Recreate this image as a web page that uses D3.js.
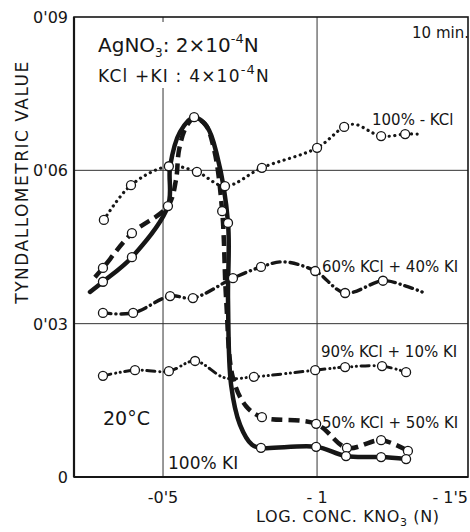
<!DOCTYPE html>
<html>
<head>
<meta charset="utf-8">
<script src="https://cdn.jsdelivr.net/npm/d3@7"></script>
<style>
  html, body { margin: 0; padding: 0; background: #fff; }
  svg { display: block; }
  text { font-family: "DejaVu Sans", "Liberation Sans", sans-serif; fill: #161616; }
</style>
</head>
<body>
<svg id="chart" width="470" height="532"></svg>
<script>
// tyndallometric value vs log conc KNO3 - each point: [logConc, value, hasCircle]

const kcl100 = [
  [-0.308, 0.0503, 1], [-0.396, 0.0571, 1], [-0.519, 0.0608, 1], [-0.610, 0.0597, 1],
  [-0.701, 0.0569, 1], [-0.821, 0.0605, 1], [-1.000, 0.0644, 1], [-1.088, 0.0685, 1],
  [-1.123, 0.0690, 0], [-1.208, 0.0667, 1], [-1.286, 0.0671, 1], [-1.325, 0.0671, 0]
];

const kcl60ki40 = [
  [-0.305, 0.0321, 1], [-0.403, 0.0321, 1], [-0.523, 0.0354, 1], [-0.597, 0.0350, 1],
  [-0.727, 0.0389, 1], [-0.818, 0.0411, 1], [-0.890, 0.0421, 0], [-0.994, 0.0403, 1],
  [-1.091, 0.0360, 1], [-1.214, 0.0384, 1], [-1.286, 0.0374, 0], [-1.341, 0.0362, 0]
];

const kcl90ki10 = [
  [-0.305, 0.0198, 1], [-0.409, 0.0209, 1], [-0.519, 0.0207, 1], [-0.604, 0.0227, 1],
  [-0.701, 0.0194, 0], [-0.795, 0.0196, 1], [-0.994, 0.0209, 1], [-1.091, 0.0215, 1],
  [-1.211, 0.0217, 1], [-1.289, 0.0205, 1]
];

const kcl50ki50 = [
  [-0.279, 0.0391, 0], [-0.305, 0.0409, 1], [-0.399, 0.0477, 1], [-0.516, 0.0530, 0],
  [-0.542, 0.0581, 0], [-0.552, 0.0640, 0], [-0.575, 0.0685, 0], [-0.601, 0.0702, 0],
  [-0.636, 0.0691, 0], [-0.666, 0.0640, 0], [-0.692, 0.0520, 1], [-0.705, 0.0346, 0],
  [-0.727, 0.0194, 0], [-0.769, 0.0139, 0], [-0.821, 0.0117, 1], [-0.997, 0.0104, 1],
  [-1.097, 0.0057, 1], [-1.208, 0.0072, 1], [-1.295, 0.0051, 1]
];

const ki100 = [
  [-0.263, 0.0362, 0], [-0.305, 0.0382, 1], [-0.399, 0.0430, 1], [-0.516, 0.0530, 1],
  [-0.523, 0.0608, 0], [-0.555, 0.0675, 0], [-0.601, 0.0704, 1], [-0.643, 0.0685, 0],
  [-0.675, 0.0630, 0], [-0.711, 0.0497, 1], [-0.711, 0.0346, 0], [-0.721, 0.0180, 0],
  [-0.750, 0.0102, 0], [-0.789, 0.0063, 0], [-0.818, 0.0057, 1], [-0.997, 0.0059, 1],
  [-1.094, 0.0041, 1], [-1.208, 0.0039, 1], [-1.289, 0.0035, 1]
];

const xTicks = [-0.5, -1, -1.5];
const xTickLabels = ["-0'5", "- 1", "- 1'5"];
const yTicks = [0, 0.03, 0.06, 0.09];
const yTickLabels = ["0", "0'03", "0'06", "0'09"];
const xGrid = [-0.5, -1];
const yGrid = [0.03, 0.06];

const ink = "#161616";
const svg = d3.select("#chart");
const m = { left: 74, right: 2, top: 17, bottom: 55 };
const W = 470, H = 532;

const x = d3.scaleLinear().domain([-0.211, -1.49]).range([m.left, W - m.right]);
const y = d3.scaleLinear().domain([0, 0.09]).range([H - m.bottom, m.top]);

// grid
svg.append("g").selectAll("line").data(xGrid).join("line")
  .attr("x1", (d) => x(d)).attr("x2", (d) => x(d))
  .attr("y1", y(0)).attr("y2", y(0.09))
  .attr("stroke", "#333").attr("stroke-width", 1);
svg.append("g").selectAll("line").data(yGrid).join("line")
  .attr("x1", x.range()[0]).attr("x2", x.range()[1])
  .attr("y1", (d) => y(d)).attr("y2", (d) => y(d))
  .attr("stroke", "#333").attr("stroke-width", 1);

// frame
svg.append("rect")
  .attr("x", x.range()[0]).attr("y", y(0.09))
  .attr("width", x.range()[1] - x.range()[0]).attr("height", y(0) - y(0.09))
  .attr("fill", "none").attr("stroke", ink).attr("stroke-width", 1.6);
svg.append("line")
  .attr("x1", x.range()[0]).attr("x2", x.range()[1]).attr("y1", y(0)).attr("y2", y(0))
  .attr("stroke", ink).attr("stroke-width", 2.2);
svg.append("line")
  .attr("x1", x.range()[0]).attr("x2", x.range()[0]).attr("y1", y(0)).attr("y2", y(0.09))
  .attr("stroke", ink).attr("stroke-width", 2.2);

// header text on white so the grid line is hidden behind it
const head = svg.append("g");
head.append("rect").attr("x", 92).attr("y", 22).attr("width", 190).attr("height", 66).attr("fill", "#fff");
const t1 = head.append("text").attr("x", 98).attr("y", 52).attr("font-size", 20);
t1.append("tspan").text("AgNO");
t1.append("tspan").attr("font-size", 12).attr("dy", 5).text("3");
t1.append("tspan").attr("dy", -5).text(":  2×10");
t1.append("tspan").attr("font-size", 13).attr("dy", -9).text("-4");
t1.append("tspan").attr("dy", 9).text("N");
const t2 = head.append("text").attr("x", 98).attr("y", 82).attr("font-size", 17).attr("letter-spacing", 1.2);
t2.append("tspan").text("KCl +KI : 4×10");
t2.append("tspan").attr("font-size", 13).attr("dy", -8).text("-4");
t2.append("tspan").attr("dy", 8).text("N");

svg.append("text").attr("x", 469).attr("y", 38).attr("text-anchor", "end")
  .attr("font-size", 15).text("10 min.");

// series
const line = d3.line()
  .x((d) => x(d[0])).y((d) => y(d[1]))
  .curve(d3.curveCatmullRom.alpha(0.5));

const series = [
  { data: kcl100, width: 3.2, dash: "0.1 5.5", cap: "round" },
  { data: kcl60ki40, width: 3.4, dash: "8 5 0.1 5", cap: "round" },
  { data: kcl90ki10, width: 3, dash: "8 5 0.1 4.5 0.1 4.5", cap: "round" },
  { data: kcl50ki50, width: 4.5, dash: "11 6", cap: "butt" },
  { data: ki100, width: 4.5, dash: null, cap: "round" }
];

svg.append("g").selectAll("path").data(series).join("path")
  .attr("d", (s) => line(s.data))
  .attr("fill", "none").attr("stroke", ink)
  .attr("stroke-width", (s) => s.width)
  .attr("stroke-dasharray", (s) => s.dash)
  .attr("stroke-linecap", (s) => s.cap)
  .attr("stroke-linejoin", "round");

const marked = series.flatMap((s) => s.data.filter((d) => d[2]));
svg.append("g").selectAll("circle").data(marked).join("circle")
  .attr("cx", (d) => x(d[0])).attr("cy", (d) => y(d[1]))
  .attr("r", 4.5).attr("fill", "#fff").attr("stroke", ink).attr("stroke-width", 1.3);

// series labels
const labels = [
  { text: "100% - KCl", x: 372, y: 125, size: 15 },
  { text: "60% KCl + 40% KI", x: 322, y: 272, size: 15 },
  { text: "90% KCl + 10% KI", x: 321, y: 357, size: 15 },
  { text: "50% KCl + 50% KI", x: 322, y: 428, size: 15 },
  { text: "100% KI", x: 168, y: 469, size: 17 },
];
svg.append("g").selectAll("text").data(labels).join("text")
  .attr("x", (d) => d.x).attr("y", (d) => d.y)
  .attr("font-size", (d) => d.size).text((d) => d.text);

svg.append("text").attr("x", 103).attr("y", 425).attr("font-size", 19).text("20°C");

// tick labels
svg.append("g").selectAll("text").data(yTicks).join("text")
  .attr("x", 68).attr("y", (d) => y(d) + 6)
  .attr("text-anchor", "end").attr("font-size", 16)
  .text((d, i) => yTickLabels[i]);
svg.append("g").selectAll("text").data(xTicks).join("text")
  .attr("x", (d) => Math.min(x(d), 468))
  .attr("y", 503)
  .attr("text-anchor", (d) => (d === -1.5 ? "end" : "middle"))
  .attr("font-size", 16)
  .text((d, i) => xTickLabels[i]);

// axis titles
const xt = svg.append("text").attr("x", 256).attr("y", 522)
  .attr("font-size", 16).attr("letter-spacing", 0.6);
xt.append("tspan").text("LOG. CONC. KNO");
xt.append("tspan").attr("font-size", 11).attr("dy", 4).text("3");
xt.append("tspan").attr("dy", -4).text("  (N)");

svg.append("text")
  .attr("transform", "translate(28,182) rotate(-90)")
  .attr("text-anchor", "middle").attr("font-size", 17).attr("letter-spacing", 1.5)
  .text("TYNDALLOMETRIC  VALUE");
</script>
</body>
</html>
